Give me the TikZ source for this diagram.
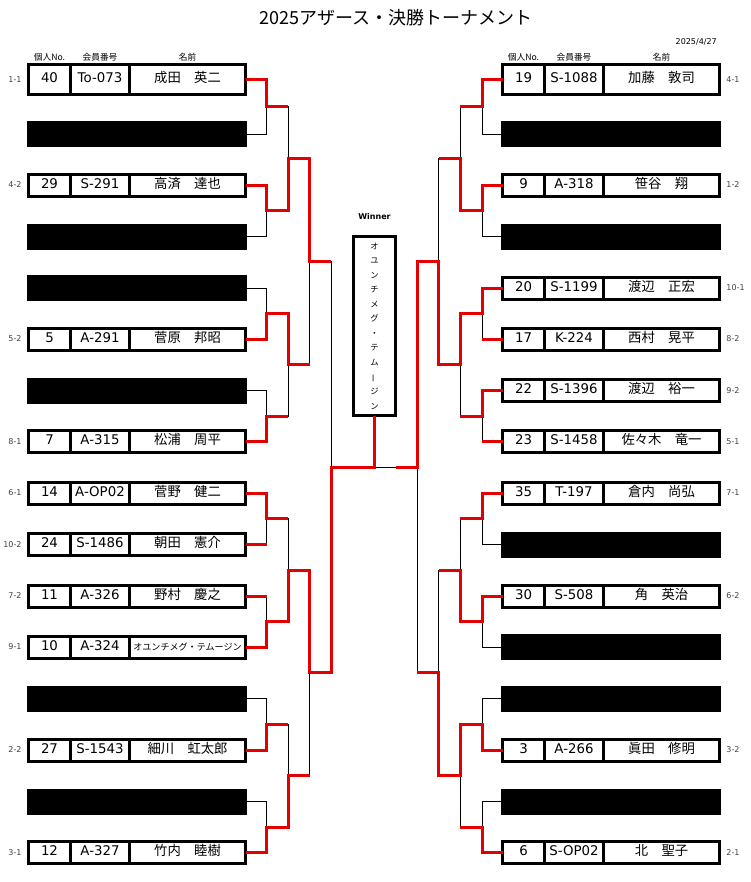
\documentclass[tikz,border=0pt]{standalone}
\usepackage{fontspec}
\setmainfont{DejaVu Sans}
\newfontfamily\jp{Noto Sans CJK JP}
\usetikzlibrary{positioning}
\definecolor{winred}{RGB}{228,0,0}

\begin{document}
\begin{tikzpicture}[x=0.75pt, y=-0.75pt, label distance=5pt]
        \tikzset{
            cell/.style={draw, line width=2.25pt, outer sep=0pt, inner sep=0pt, minimum height=16.5pt, text height=7pt, text depth=2pt, font=\fontsize{10}{12}\selectfont},
            nocell/.style={cell, minimum width=31.5pt},
            idcell/.style={cell, minimum width=44.25pt},
            nmcell/.style={cell, minimum width=87pt, font=\jp\fontsize{10}{12}\selectfont},
            tall/.style={minimum height=22.5pt},
            bye/.style={fill, outer sep=0pt, inner sep=0pt, minimum width=165pt, minimum height=19.5pt},
            seed/.style={font=\fontsize{6}{7}\selectfont, text=black!75, inner sep=0pt},
            colhead/.style={font=\jp\fontsize{6.5}{7}\selectfont, inner sep=0pt},
            winbox/.style={draw, line width=2.25pt, outer sep=0pt, minimum width=31.5pt, minimum height=134.25pt, align=center, font=\jp\fontsize{6.2}{10.9}\selectfont},
            redline/.style={draw=winred, line width=2.25pt},
            thinline/.style={line width=0.7pt}
        }
        \useasboundingbox (0,0) rectangle (750,882);

        % Title and date
        \node[font=\jp\fontsize{13.5}{16}\selectfont] (title) at (396,18) {2025アザース・決勝トーナメント};
        \node[font=\fontsize{6}{7}\selectfont, anchor=east, inner sep=0pt] (date) at (717,42) {2025/4/27};

        % Left half - entries
        \node[nmcell, tall] (L1) at (187.5,79.5) {成田　英二};
        \node[idcell, tall, left=0pt of L1] (L1id) {To-073};
        \node[nocell, tall, left=0pt of L1id, label={[seed]left:1-1}] (L1no) {40};
        \node[bye] (L2) at (137,134) {};
        \node[nmcell] (L3) at (187.5,185) {高済　達也};
        \node[idcell, left=0pt of L3] (L3id) {S-291};
        \node[nocell, left=0pt of L3id, label={[seed]left:4-2}] (L3no) {29};
        \node[bye] (L4) at (137,236.5) {};
        \node[bye] (L5) at (137,288) {};
        \node[nmcell] (L6) at (187.5,339) {菅原　邦昭};
        \node[idcell, left=0pt of L6] (L6id) {A-291};
        \node[nocell, left=0pt of L6id, label={[seed]left:5-2}] (L6no) {5};
        \node[bye] (L7) at (137,390.5) {};
        \node[nmcell] (L8) at (187.5,441.5) {松浦　周平};
        \node[idcell, left=0pt of L8] (L8id) {A-315};
        \node[nocell, left=0pt of L8id, label={[seed]left:8-1}] (L8no) {7};
        \node[nmcell] (L9) at (187.5,493) {菅野　健二};
        \node[idcell, left=0pt of L9] (L9id) {A-OP02};
        \node[nocell, left=0pt of L9id, label={[seed]left:6-1}] (L9no) {14};
        \node[nmcell] (L10) at (187.5,544.5) {朝田　憲介};
        \node[idcell, left=0pt of L10] (L10id) {S-1486};
        \node[nocell, left=0pt of L10id, label={[seed]left:10-2}] (L10no) {24};
        \node[nmcell] (L11) at (187.5,596) {野村　慶之};
        \node[idcell, left=0pt of L11] (L11id) {A-326};
        \node[nocell, left=0pt of L11id, label={[seed]left:7-2}] (L11no) {11};
        \node[nmcell, font=\jp\fontsize{6.8}{8}\selectfont] (L12) at (187.5,647) {オユンチメグ・テムージン};
        \node[idcell, left=0pt of L12] (L12id) {A-324};
        \node[nocell, left=0pt of L12id, label={[seed]left:9-1}] (L12no) {10};
        \node[bye] (L13) at (137,698.5) {};
        \node[nmcell] (L14) at (187.5,750) {細川　虹太郎};
        \node[idcell, left=0pt of L14] (L14id) {S-1543};
        \node[nocell, left=0pt of L14id, label={[seed]left:2-2}] (L14no) {27};
        \node[bye] (L15) at (137,801.5) {};
        \node[nmcell] (L16) at (187.5,852.5) {竹内　睦樹};
        \node[idcell, left=0pt of L16] (L16id) {A-327};
        \node[nocell, left=0pt of L16id, label={[seed]left:3-1}] (L16no) {12};

        \node[colhead, above=2pt of L1no] (hL1) {個人No.};
        \node[colhead, above=2pt of L1id] (hL2) {会員番号};
        \node[colhead, above=2pt of L1] (hL3) {名前};

        % Right half - entries
        \node[nocell, tall] (R1) at (523.5,79.5) {19};
        \node[idcell, tall, right=0pt of R1] (R1id) {S-1088};
        \node[nmcell, tall, right=0pt of R1id, label={[seed]right:4-1}] (R1nm) {加藤　敦司};
        \node[bye] (R2) at (611,134) {};
        \node[nocell] (R3) at (523.5,185) {9};
        \node[idcell, right=0pt of R3] (R3id) {A-318};
        \node[nmcell, right=0pt of R3id, label={[seed]right:1-2}] (R3nm) {笹谷　翔};
        \node[bye] (R4) at (611,236.5) {};
        \node[nocell] (R5) at (523.5,288) {20};
        \node[idcell, right=0pt of R5] (R5id) {S-1199};
        \node[nmcell, right=0pt of R5id, label={[seed]right:10-1}] (R5nm) {渡辺　正宏};
        \node[nocell] (R6) at (523.5,339) {17};
        \node[idcell, right=0pt of R6] (R6id) {K-224};
        \node[nmcell, right=0pt of R6id, label={[seed]right:8-2}] (R6nm) {西村　晃平};
        \node[nocell] (R7) at (523.5,390.5) {22};
        \node[idcell, right=0pt of R7] (R7id) {S-1396};
        \node[nmcell, right=0pt of R7id, label={[seed]right:9-2}] (R7nm) {渡辺　裕一};
        \node[nocell] (R8) at (523.5,441.5) {23};
        \node[idcell, right=0pt of R8] (R8id) {S-1458};
        \node[nmcell, right=0pt of R8id, label={[seed]right:5-1}] (R8nm) {佐々木　竜一};
        \node[nocell] (R9) at (523.5,493) {35};
        \node[idcell, right=0pt of R9] (R9id) {T-197};
        \node[nmcell, right=0pt of R9id, label={[seed]right:7-1}] (R9nm) {倉内　尚弘};
        \node[bye] (R10) at (611,544.5) {};
        \node[nocell] (R11) at (523.5,596) {30};
        \node[idcell, right=0pt of R11] (R11id) {S-508};
        \node[nmcell, right=0pt of R11id, label={[seed]right:6-2}] (R11nm) {角　英治};
        \node[bye] (R12) at (611,647) {};
        \node[bye] (R13) at (611,698.5) {};
        \node[nocell] (R14) at (523.5,750) {3};
        \node[idcell, right=0pt of R14] (R14id) {A-266};
        \node[nmcell, right=0pt of R14id, label={[seed]right:3-2}] (R14nm) {眞田　修明};
        \node[bye] (R15) at (611,801.5) {};
        \node[nocell] (R16) at (523.5,852.5) {6};
        \node[idcell, right=0pt of R16] (R16id) {S-OP02};
        \node[nmcell, right=0pt of R16id, label={[seed]right:2-1}] (R16nm) {北　聖子};

        \node[colhead, above=2pt of R1] (hR1) {個人No.};
        \node[colhead, above=2pt of R1id] (hR2) {会員番号};
        \node[colhead, above=2pt of R1nm] (hR3) {名前};

        % Winner box
        \node[winbox] (W) at (374.5,326) {オ\\ユ\\ン\\チ\\メ\\グ\\・\\テ\\ム\\\rotatebox[origin=c]{90}{ー}\\ジ\\ン};
        \node[font=\bfseries\fontsize{6}{7}\selectfont, inner sep=0pt, above=12.5pt of W] (wlab) {Winner};

        % Match points
        \coordinate (aL1) at (266.5,106.8);
        \coordinate (aL2) at (266.5,210.8);
        \coordinate (aL3) at (266.5,313.5);
        \coordinate (aL4) at (266.5,416);
        \coordinate (aL5) at (266.5,518.8);
        \coordinate (aL6) at (266.5,621.5);
        \coordinate (aL7) at (266.5,724.3);
        \coordinate (aL8) at (266.5,827);
        \coordinate (bL1) at (288,158.8);
        \coordinate (bL2) at (288,364.8);
        \coordinate (bL3) at (288,570.1);
        \coordinate (bL4) at (288,775.6);
        \coordinate (cL1) at (309.5,261.8);
        \coordinate (cL2) at (309.5,672.9);
        \coordinate (dL) at (331,467.3);
        \coordinate (aR1) at (482,106.8);
        \coordinate (aR2) at (482,210.8);
        \coordinate (aR3) at (482,313.5);
        \coordinate (aR4) at (482,416);
        \coordinate (aR5) at (482,518.8);
        \coordinate (aR6) at (482,621.5);
        \coordinate (aR7) at (482,724.3);
        \coordinate (aR8) at (482,827);
        \coordinate (bR1) at (460,158.8);
        \coordinate (bR2) at (460,364.8);
        \coordinate (bR3) at (460,570.1);
        \coordinate (bR4) at (460,775.6);
        \coordinate (cR1) at (438.5,261.8);
        \coordinate (cR2) at (438.5,672.9);
        \coordinate (dR) at (417,467.3);
        \coordinate (fin) at (374.5,467.3);
        \coordinate (fR) at (396,467.3);

        % Bracket, thin black
        \draw[thinline]
            (L1.east) -| (aL1)  (L2.east) -| (aL1)  (L3.east) -| (aL2)  (L4.east) -| (aL2)
            (L5.east) -| (aL3)  (L6.east) -| (aL3)  (L7.east) -| (aL4)  (L8.east) -| (aL4)
            (L9.east) -| (aL5)  (L10.east) -| (aL5)  (L11.east) -| (aL6)  (L12.east) -| (aL6)
            (L13.east) -| (aL7)  (L14.east) -| (aL7)  (L15.east) -| (aL8)  (L16.east) -| (aL8)
            (aL1) -| (bL1)  (aL2) -| (bL1)  (aL3) -| (bL2)  (aL4) -| (bL2)
            (aL5) -| (bL3)  (aL6) -| (bL3)  (aL7) -| (bL4)  (aL8) -| (bL4)
            (bL1) -| (cL1)  (bL2) -| (cL1)  (bL3) -| (cL2)  (bL4) -| (cL2)
            (cL1) -| (dL)  (cL2) -| (dL)  (dL) -- (dR);
        \draw[thinline]
            (R1.west) -| (aR1)  (R2.west) -| (aR1)  (R3.west) -| (aR2)  (R4.west) -| (aR2)
            (R5.west) -| (aR3)  (R6.west) -| (aR3)  (R7.west) -| (aR4)  (R8.west) -| (aR4)
            (R9.west) -| (aR5)  (R10.west) -| (aR5)  (R11.west) -| (aR6)  (R12.west) -| (aR6)
            (R13.west) -| (aR7)  (R14.west) -| (aR7)  (R15.west) -| (aR8)  (R16.west) -| (aR8)
            (aR1) -| (bR1)  (aR2) -| (bR1)  (aR3) -| (bR2)  (aR4) -| (bR2)
            (aR5) -| (bR3)  (aR6) -| (bR3)  (aR7) -| (bR4)  (aR8) -| (bR4)
            (bR1) -| (cR1)  (bR2) -| (cR1)  (bR3) -| (cR2)  (bR4) -| (cR2)
            (cR1) -| (dR)  (cR2) -| (dR);

        % Results, red (each player as far as they got)
        \draw[redline] (L1.east) -| (aL1) -- (aL1 -| bL1);
        \draw[redline] (L3.east) -| (aL2) -| (bL1) -| (cL1) -- (cL1 -| dL);
        \draw[redline] (L6.east) -| (aL3) -| (bL2) -- (bL2 -| cL1);
        \draw[redline] (L8.east) -| (aL4) -- (aL4 -| bL2);
        \draw[redline] (L9.east) -| (aL5) -- (aL5 -| bL3);
        \draw[redline] (L10.east) -- (L10.east -| aL5);
        \draw[redline] (L11.east) -- (L11.east -| aL6);
        \draw[redline] (L12.east) -| (aL6) -| (bL3) -| (cL2) -| (dL) -- (fin) -- (W.south);
        \draw[redline] (L14.east) -| (aL7) -- (aL7 -| bL4);
        \draw[redline] (L16.east) -| (aL8) -| (bL4) -- (bL4 -| cL2);

        \draw[redline] (R1.west) -| (aR1) -- (aR1 -| bR1);
        \draw[redline] (R3.west) -| (aR2) -| (bR1) -- (bR1 -| cR1);
        \draw[redline] (R5.west) -| (aR3) -| (bR2) -| (cR1) -| (dR) -- (fR);
        \draw[redline] (R6.west) -- (R6.west -| aR3);
        \draw[redline] (R7.west) -| (aR4) -- (aR4 -| bR2);
        \draw[redline] (R8.west) -- (R8.west -| aR4);
        \draw[redline] (R9.west) -| (aR5) -- (aR5 -| bR3);
        \draw[redline] (R11.west) -| (aR6) -| (bR3) -- (bR3 -| cR2);
        \draw[redline] (R14.west) -| (aR7) -| (bR4) -| (cR2) -- (cR2 -| dR);
        \draw[redline] (R16.west) -| (aR8) -- (aR8 -| bR4);
    \end{tikzpicture}
\end{document}
